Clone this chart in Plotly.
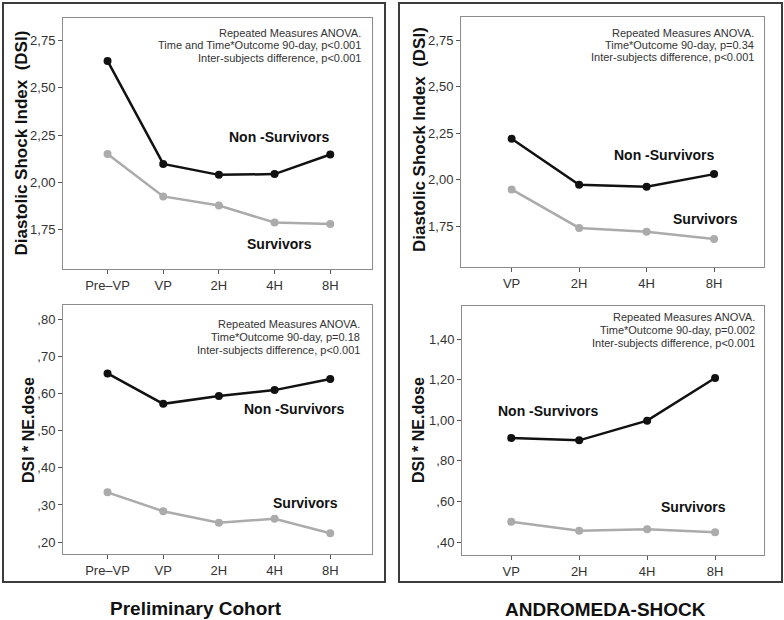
import plotly.graph_objects as go

W, H = 784, 620

# ---------------- data ----------------
cats_prelim = ["Pre–VP", "VP", "2H", "4H", "8H"]
cats_andro = ["VP", "2H", "4H", "8H"]

dsi_prelim_non = [2.643, 2.098, 2.040, 2.044, 2.148]
dsi_prelim_surv = [2.150, 1.926, 1.878, 1.788, 1.780]
dose_prelim_non = [0.654, 0.572, 0.593, 0.609, 0.639]
dose_prelim_surv = [0.334, 0.283, 0.252, 0.263, 0.224]

dsi_andro_non = [2.220, 1.973, 1.962, 2.030]
dsi_andro_surv = [1.948, 1.741, 1.720, 1.682]
dose_andro_non = [0.913, 0.901, 0.998, 1.208]
dose_andro_surv = [0.500, 0.456, 0.463, 0.448]

dsi_ticks = [1.75, 2.00, 2.25, 2.50, 2.75]
dsi_ticktext = ["1,75", "2,00", "2,25", "2,50", "2,75"]
dose_prelim_ticks = [0.2, 0.3, 0.4, 0.5, 0.6, 0.7, 0.8]
dose_prelim_ticktext = [",20", ",30", ",40", ",50", ",60", ",70", ",80"]
dose_andro_ticks = [0.4, 0.6, 0.8, 1.0, 1.2, 1.4]
dose_andro_ticktext = [",40", ",60", ",80", "1,00", "1,20", "1,40"]

anova_tl = ["Repeated Measures ANOVA.", "Time and Time*Outcome 90-day, p<0.001",
            "Inter-subjects difference, p<0.001"]
anova_bl = ["Repeated Measures ANOVA.", "Time*Outcome 90-day, p=0.18",
            "Inter-subjects difference, p<0.001"]
anova_tr = ["Repeated Measures ANOVA.", "Time*Outcome 90-day, p=0.34",
            "Inter-subjects difference, p<0.001"]
anova_br = ["Repeated Measures ANOVA.", "Time*Outcome 90-day, p=0.002",
            "Inter-subjects difference, p<0.001"]

# ---------------- helpers ----------------
def px_x(p):
    return p / W

def px_y(p):
    return 1 - p / H

BLACK = "#111111"
GRAY = "#ababab"
FONT = "Liberation Sans"

fig = go.Figure()

panels = [
    dict(s="", cats=cats_prelim, non=dsi_prelim_non, surv=dsi_prelim_surv,
         xd=(63, 372), yd=(18, 269), xr=[-0.8, 4.75], yr=[1.542, 2.87],
         tv=dsi_ticks, tt=dsi_ticktext, ytitle="Diastolic Shock Index  (DSI)", tpos=(21, 143.5),
         anova=anova_tl, apos=(363, [32.7, 45.3, 58.3]),
         lab_non=(3.08, 2.24), lab_surv=(3.08, 1.674)),
    dict(s="2", cats=cats_prelim, non=dose_prelim_non, surv=dose_prelim_surv,
         xd=(63, 372), yd=(305, 554), xr=[-0.8, 4.75], yr=[0.168, 0.838],
         tv=dose_prelim_ticks, tt=dose_prelim_ticktext, ytitle="DSI * NE.dose", tpos=(28, 430),
         anova=anova_bl, apos=(362, [324.3, 337.3, 350.3]),
         lab_non=(3.35, 0.558), lab_surv=(3.56, 0.305)),
    dict(s="3", cats=cats_andro, non=dsi_andro_non, surv=dsi_andro_surv,
         xd=(461, 764), yd=(17, 267), xr=[-0.75, 3.74], yr=[1.531, 2.874],
         tv=dsi_ticks, tt=dsi_ticktext, ytitle="Diastolic Shock Index  (DSI)", tpos=(419, 140),
         anova=anova_tr, apos=(756, [32.7, 45.3, 57.0]),
         lab_non=(2.27, 2.131), lab_surv=(2.87, 1.788)),
    dict(s="4", cats=cats_andro, non=dose_andro_non, surv=dose_andro_surv,
         xd=(462, 764), yd=(306, 555), xr=[-0.725, 3.72], yr=[0.336, 1.563],
         tv=dose_andro_ticks, tt=dose_andro_ticktext, ytitle="DSI * NE.dose", tpos=(418, 430),
         anova=anova_br, apos=(757, [317.3, 330.3, 342.7]),
         lab_non=(0.55, 1.046), lab_surv=(2.68, 0.573)),
]

annotations = []
layout_axes = {}
for p in panels:
    s = p["s"]
    xs = list(range(len(p["cats"])))
    xa = "x" + s
    ya = "y" + s
    fig.add_trace(go.Scatter(x=xs, y=p["surv"], mode="lines+markers", xaxis=xa, yaxis=ya,
                             line=dict(color=GRAY, width=2.5),
                             marker=dict(color=GRAY, size=8), showlegend=False, hoverinfo="skip"))
    fig.add_trace(go.Scatter(x=xs, y=p["non"], mode="lines+markers", xaxis=xa, yaxis=ya,
                             line=dict(color=BLACK, width=2.5),
                             marker=dict(color=BLACK, size=8), showlegend=False, hoverinfo="skip"))
    axkey = "xaxis" + s
    aykey = "yaxis" + s
    layout_axes[axkey] = dict(
        domain=[px_x(p["xd"][0]), px_x(p["xd"][1])], range=p["xr"], anchor=ya,
        tickvals=xs, ticktext=p["cats"], showgrid=False, zeroline=False,
        showline=True, mirror=True, linecolor="#8c8c8c", linewidth=1,
        ticks="outside", ticklen=4, tickcolor="#555555",
        tickfont=dict(family=FONT, size=13, color="#333333"), fixedrange=True)
    layout_axes[aykey] = dict(
        domain=[px_y(p["yd"][1]), px_y(p["yd"][0])], range=p["yr"], anchor=xa,
        tickvals=p["tv"], ticktext=p["tt"], showgrid=False, zeroline=False,
        showline=True, mirror=True, linecolor="#8c8c8c", linewidth=1,
        ticks="outside", ticklen=4, tickcolor="#555555",
        tickfont=dict(family=FONT, size=13, color="#333333"), fixedrange=True)
    annotations.append(dict(text="<b>" + p["ytitle"] + "</b>", xref="paper", yref="paper",
                            x=px_x(p["tpos"][0]), y=px_y(p["tpos"][1]), textangle=-90,
                            showarrow=False, xanchor="center", yanchor="middle",
                            font=dict(family=FONT, size=17 if "Diastolic" in p["ytitle"] else 16,
                                      color="#111111")))
    for line, yy in zip(p["anova"], p["apos"][1]):
        annotations.append(dict(text=line, xref="paper", yref="paper",
                                x=px_x(p["apos"][0]), y=px_y(yy), xanchor="right", yanchor="middle",
                                showarrow=False, font=dict(family=FONT, size=11, color="#333333")))
    annotations.append(dict(text="<b>Non -Survivors</b>", xref=xa, yref=ya,
                            x=p["lab_non"][0], y=p["lab_non"][1], showarrow=False,
                            xanchor="center", yanchor="middle",
                            font=dict(family=FONT, size=14, color="#111111")))
    annotations.append(dict(text="<b>Survivors</b>", xref=xa, yref=ya,
                            x=p["lab_surv"][0], y=p["lab_surv"][1], showarrow=False,
                            xanchor="center", yanchor="middle",
                            font=dict(family=FONT, size=14, color="#111111")))

annotations.append(dict(text="<b>Preliminary Cohort</b>", xref="paper", yref="paper",
                        x=px_x(196), y=px_y(608), showarrow=False, xanchor="center", yanchor="middle",
                        font=dict(family=FONT, size=19, color="#111111")))
annotations.append(dict(text="<b>ANDROMEDA-SHOCK</b>", xref="paper", yref="paper",
                        x=px_x(605), y=px_y(609), showarrow=False, xanchor="center", yanchor="middle",
                        font=dict(family=FONT, size=19, color="#111111")))

shapes = [
    dict(type="rect", xref="paper", yref="paper", x0=px_x(3), x1=px_x(385), y0=px_y(582), y1=px_y(3),
         line=dict(color="#3c3c3c", width=2)),
    dict(type="rect", xref="paper", yref="paper", x0=px_x(399), x1=px_x(782), y0=px_y(582), y1=px_y(3),
         line=dict(color="#3c3c3c", width=2)),
]

fig.update_layout(width=W, height=H, margin=dict(l=0, r=0, t=0, b=0),
                  paper_bgcolor="white", plot_bgcolor="white",
                  annotations=annotations, shapes=shapes, showlegend=False,
                  font=dict(family=FONT), **layout_axes)

fig.write_html("out.html", config={"displayModeBar": False},
               post_script="document.body.style.margin='0';document.body.style.overflow='hidden';")
